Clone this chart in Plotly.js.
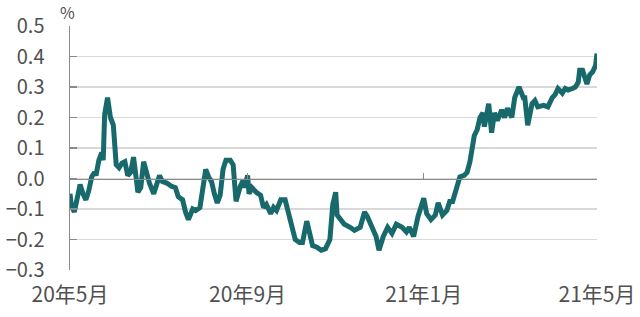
<!DOCTYPE html>
<html>
<head>
<meta charset="utf-8">
<script src="https://cdn.plot.ly/plotly-3.0.1.min.js"></script>
<style>
html,body{margin:0;padding:0;background:#fff;}
#chart{width:640px;height:317px;}
</style>
</head>
<body>
<div id="chart"></div>
<script>
// Dates of observations
var dates = [
"2020-05-01","2020-05-02","2020-05-04","2020-05-06","2020-05-08","2020-05-10","2020-05-12","2020-05-14","2020-05-16","2020-05-18",
"2020-05-19","2020-05-21","2020-05-23","2020-05-24","2020-05-25","2020-05-27","2020-05-29","2020-05-31","2020-06-01","2020-06-02",
"2020-06-04","2020-06-06","2020-06-08","2020-06-10","2020-06-12","2020-06-14","2020-06-16","2020-06-17","2020-06-19","2020-06-21",
"2020-06-23","2020-06-25","2020-06-28","2020-06-30","2020-07-02","2020-07-04","2020-07-07","2020-07-10","2020-07-13","2020-07-15",
"2020-07-18","2020-07-20","2020-07-22","2020-07-25","2020-07-27","2020-07-30","2020-08-01","2020-08-03","2020-08-05","2020-08-07",
"2020-08-09","2020-08-11","2020-08-13","2020-08-15","2020-08-17","2020-08-20","2020-08-22","2020-08-24","2020-08-27","2020-08-29",
"2020-08-30","2020-09-01","2020-09-02","2020-09-04","2020-09-07","2020-09-10","2020-09-12","2020-09-14","2020-09-17","2020-09-19",
"2020-09-21","2020-09-24","2020-09-27","2020-09-29","2020-10-01","2020-10-04","2020-10-07","2020-10-09","2020-10-12","2020-10-14",
"2020-10-16","2020-10-19","2020-10-22","2020-10-25","2020-10-28","2020-10-30","2020-11-01","2020-11-02","2020-11-05","2020-11-07",
"2020-11-11","2020-11-14","2020-11-18","2020-11-21","2020-11-23","2020-11-26","2020-11-29","2020-12-01","2020-12-04","2020-12-07",
"2020-12-10","2020-12-13","2020-12-17","2020-12-20","2020-12-22","2020-12-25","2020-12-28","2021-01-01","2021-01-03","2021-01-06",
"2021-01-09","2021-01-11","2021-01-14","2021-01-17","2021-01-19","2021-01-21","2021-01-24","2021-01-26","2021-01-29","2021-01-31",
"2021-02-02","2021-02-03","2021-02-05","2021-02-07","2021-02-09","2021-02-11","2021-02-12","2021-02-15","2021-02-17","2021-02-19",
"2021-02-21","2021-02-24","2021-02-26","2021-02-28","2021-03-03","2021-03-05","2021-03-08","2021-03-11","2021-03-12","2021-03-14",
"2021-03-17","2021-03-19","2021-03-21","2021-03-25","2021-03-28","2021-03-31","2021-04-02","2021-04-04","2021-04-07","2021-04-09",
"2021-04-11","2021-04-14","2021-04-16","2021-04-18","2021-04-19","2021-04-21","2021-04-24","2021-04-26","2021-04-28","2021-04-30",
"2021-05-01"
];
// Yield (%)
var values = [
-0.05,-0.09,-0.11,-0.07,-0.02,-0.05,-0.07,-0.04,0.005,0.02,
0.01,0.06,0.085,0.06,0.21,0.265,0.20,0.175,0.125,0.045,
0.035,0.05,0.055,0.01,0.02,0.07,-0.005,-0.045,-0.03,0.055,
0.02,-0.015,-0.05,-0.015,0.01,-0.01,-0.015,-0.025,-0.03,-0.06,
-0.07,-0.11,-0.135,-0.10,-0.105,-0.095,-0.04,0.03,0.005,-0.01,
-0.05,-0.08,-0.055,0.03,0.06,0.06,0.045,-0.075,-0.025,-0.005,
-0.03,0.01,-0.05,-0.03,-0.045,-0.055,-0.095,-0.085,-0.115,-0.095,
-0.105,-0.07,-0.07,-0.105,-0.135,-0.20,-0.21,-0.21,-0.14,-0.175,
-0.22,-0.225,-0.235,-0.23,-0.20,-0.085,-0.045,-0.12,-0.14,-0.15,
-0.16,-0.17,-0.16,-0.11,-0.125,-0.16,-0.19,-0.235,-0.19,-0.16,
-0.18,-0.15,-0.16,-0.175,-0.16,-0.19,-0.125,-0.065,-0.115,-0.135,
-0.12,-0.08,-0.12,-0.105,-0.075,-0.075,-0.02,0.005,0.01,0.02,
0.055,0.095,0.14,0.16,0.20,0.215,0.17,0.245,0.15,0.215,
0.19,0.225,0.20,0.23,0.20,0.265,0.30,0.265,0.265,0.175,
0.245,0.255,0.235,0.24,0.235,0.265,0.275,0.295,0.28,0.295,
0.29,0.295,0.30,0.315,0.355,0.355,0.31,0.34,0.35,0.37,
0.41
];
var xTickVals = ["2020-05-01","2020-09-01","2021-01-01","2021-05-01"];
var xTickText = ["20年5月","20年9月","21年1月","21年5月"];
var yTickVals = [-0.3,-0.2,-0.1,0.0,0.1,0.2,0.3,0.4,0.5];
var yTickText = ["−0.3","−0.2","−0.1","0.0","0.1","0.2","0.3","0.4","0.5"];
var unitLabel = "%";

var FONT = '"Noto Sans CJK JP", "Noto Sans", sans-serif';
var TXT = '#505050';
var xRange = ["2020-05-01","2021-05-01"];

var traces = [
  {x: dates, y: values, type: 'scatter', mode: 'lines',
   line: {color: '#17696b', width: 5}, hoverinfo: 'skip', xaxis: 'x', yaxis: 'y'},
  {x: [], y: [], type: 'scatter', mode: 'lines', xaxis: 'x2', yaxis: 'y', showlegend: false}
];

var layout = {
  width: 640, height: 317,
  margin: {l: 70, r: 43, t: 26, b: 47},
  paper_bgcolor: '#fff', plot_bgcolor: '#fff',
  showlegend: false,
  font: {family: FONT, color: TXT},
  xaxis: {
    type: 'date', range: xRange,
    tickvals: xTickVals, ticktext: xTickText,
    ticks: '', showline: false, showgrid: false, zeroline: false,
    tickfont: {size: 21, color: TXT, family: FONT},
    ticklabelstandoff: 10
  },
  xaxis2: {
    type: 'date', range: xRange, overlaying: 'x', anchor: 'free', position: 0.375,
    tickvals: xTickVals, showticklabels: false,
    ticks: 'inside', ticklen: 6, tickwidth: 1.5, tickcolor: '#8a8a8a',
    showline: true, linecolor: '#8a8a8a', linewidth: 1.5,
    showgrid: false, zeroline: false
  },
  yaxis: {
    range: [-0.3, 0.5],
    tickvals: yTickVals, ticktext: yTickText,
    ticks: 'inside', ticklen: 7, tickwidth: 1.5, tickcolor: '#8a8a8a',
    showline: true, linecolor: '#8a8a8a', linewidth: 1.5,
    showgrid: true, gridcolor: '#d9d9d9', gridwidth: 1.5,
    zeroline: false,
    tickfont: {size: 20, color: TXT, family: FONT},
    ticklabelstandoff: 20
  },
  annotations: [
    {text: unitLabel, xref: 'paper', yref: 'paper', x: -0.004, y: 1.0, yshift: 14,
     xanchor: 'center', yanchor: 'middle', showarrow: false,
     font: {size: 16, color: TXT, family: FONT}}
  ]
};

Plotly.newPlot('chart', traces, layout, {displayModeBar: false, staticPlot: true});
</script>
</body>
</html>
